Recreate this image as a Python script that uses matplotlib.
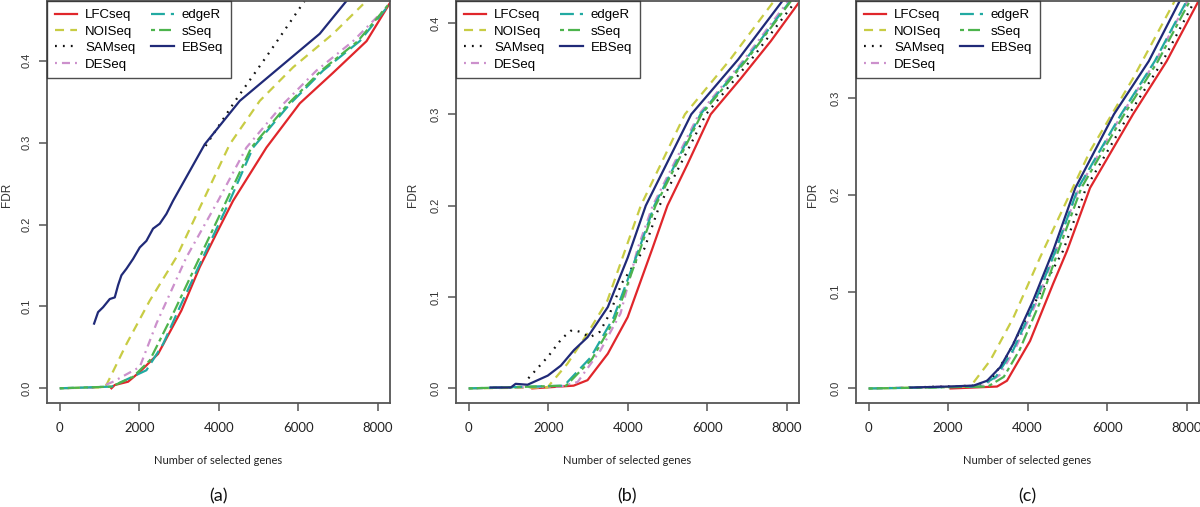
import matplotlib
matplotlib.use("Agg")
import matplotlib.pyplot as plt

# ---- data (FDR vs number of selected genes) ----
methods = ["LFCseq", "NOISeq", "SAMseq", "DESeq", "edgeR", "sSeq", "EBSeq"]

# panel (a)
a_lfc_x = [1300, 1384, 1719, 2013, 2474, 3061, 3522, 3942, 4361, 5200, 6040, 6870, 7720, 8300]
a_lfc_y = [0.0, 0.004, 0.008, 0.020, 0.042, 0.095, 0.148, 0.189, 0.229, 0.294, 0.348, 0.385, 0.424, 0.470]
a_noi_x = [0, 1000, 1174, 1678, 2264, 2935, 3606, 4277, 5032, 5870, 6877, 7632]
a_noi_y = [0.0, 0.001, 0.004, 0.054, 0.107, 0.160, 0.229, 0.298, 0.351, 0.392, 0.433, 0.469]
a_sam_x = [3670, 4400, 5300, 6160]
a_sam_y = [0.296, 0.350, 0.412, 0.473]
a_des_x = [0, 1000, 1342, 2013, 2432, 3187, 3983, 4697, 5619, 6458, 7380, 8219]
a_des_y = [0.0, 0.001, 0.008, 0.026, 0.079, 0.160, 0.229, 0.294, 0.347, 0.388, 0.424, 0.465]
a_edg_x = [0, 1300, 2180, 2600, 3019, 3606, 4277, 4864, 5787, 6625, 7548, 8280]
a_edg_y = [0.0, 0.002, 0.022, 0.054, 0.099, 0.160, 0.229, 0.294, 0.347, 0.388, 0.424, 0.468]
a_sse_x = [0, 1300, 1845, 2264, 2851, 3522, 4194, 4820, 5740, 6580, 7500, 8260]
a_sse_y = [0.0, 0.002, 0.014, 0.034, 0.091, 0.160, 0.229, 0.294, 0.347, 0.388, 0.424, 0.468]
a_ebs_x = [864, 964, 1090, 1258, 1384, 1468, 1552, 1678, 1845, 2013, 2180, 2348, 2516, 2684,
           2851, 3648, 4529, 5535, 6542, 7213]
a_ebs_y = [0.079, 0.093, 0.099, 0.109, 0.111, 0.126, 0.138, 0.146, 0.158, 0.172, 0.180, 0.195,
           0.201, 0.213, 0.229, 0.298, 0.351, 0.392, 0.433, 0.473]

# panel (b)
b_lfc_x = [1600, 2640, 2990, 3500, 4000, 4621, 5000, 5500, 6089, 6843, 7600, 8336]
b_lfc_y = [0.0, 0.003, 0.009, 0.038, 0.078, 0.153, 0.200, 0.245, 0.300, 0.339, 0.380, 0.424]
b_noi_x = [0, 1980, 2483, 2986, 3489, 3950, 4330, 5440, 6580, 7682]
b_noi_y = [0.0, 0.001, 0.027, 0.060, 0.096, 0.153, 0.200, 0.300, 0.360, 0.424]
b_sam_x = [1500, 2000, 2350, 2600, 2800, 3050, 3300, 3550, 3850, 4420, 4800, 5970, 7110, 8230]
b_sam_y = [0.011, 0.035, 0.055, 0.064, 0.062, 0.056, 0.062, 0.082, 0.115, 0.153, 0.200, 0.300,
           0.360, 0.424]
b_des_x = [0, 2300, 2740, 3320, 3820, 4250, 4630, 5790, 6930, 8040]
b_des_y = [0.0, 0.002, 0.007, 0.042, 0.082, 0.153, 0.200, 0.300, 0.360, 0.424]
b_edg_x = [0, 2400, 3070, 3650, 4290, 4670, 5830, 6970, 8090]
b_edg_y = [0.0, 0.003, 0.034, 0.078, 0.153, 0.200, 0.300, 0.360, 0.424]
b_sse_x = [0, 2450, 3100, 3680, 4320, 4700, 5860, 7000, 8110]
b_sse_y = [0.0, 0.003, 0.032, 0.076, 0.153, 0.200, 0.300, 0.360, 0.424]
b_ebs_x = [550, 1060, 1180, 1480, 1990, 2320, 2650, 2990, 3500, 4000, 4455, 5600, 6780, 7892]
b_ebs_y = [0.001, 0.001, 0.005, 0.004, 0.014, 0.025, 0.042, 0.056, 0.089, 0.143, 0.200, 0.300,
           0.360, 0.424]

# panel (c)
c_lfc_x = [2060, 3230, 3480, 4060, 4640, 4990, 5570, 6650, 7500, 8300]
c_lfc_y = [0.0, 0.002, 0.008, 0.049, 0.108, 0.142, 0.207, 0.283, 0.338, 0.400]
c_noi_x = [0, 2560, 3060, 3640, 4310, 5570, 6650, 7700]
c_noi_y = [0.0, 0.002, 0.029, 0.073, 0.135, 0.245, 0.320, 0.400]
c_sam_x = [1000, 2700, 3100, 3500, 4000, 4890, 5470, 6550, 7400, 8200]
c_sam_y = [0.001, 0.003, 0.010, 0.035, 0.075, 0.142, 0.207, 0.283, 0.338, 0.400]
c_des_x = [0, 2900, 3300, 3700, 4200, 4710, 5290, 6370, 7220, 8020]
c_des_y = [0.0, 0.003, 0.014, 0.042, 0.087, 0.142, 0.207, 0.283, 0.338, 0.400]
c_edg_x = [0, 2800, 3200, 3640, 4140, 4700, 5270, 6350, 7200, 8000]
c_edg_y = [0.0, 0.002, 0.012, 0.040, 0.085, 0.142, 0.207, 0.283, 0.338, 0.400]
c_sse_x = [0, 3000, 3400, 3800, 4300, 4770, 5350, 6430, 7280, 8080]
c_sse_y = [0.0, 0.002, 0.012, 0.040, 0.088, 0.142, 0.207, 0.283, 0.338, 0.400]
c_ebs_x = [1050, 2000, 2640, 2980, 3310, 3640, 4140, 4640, 5200, 6170, 7050, 7825]
c_ebs_y = [0.001, 0.002, 0.003, 0.008, 0.022, 0.046, 0.091, 0.142, 0.207, 0.283, 0.338, 0.400]

x_ticks = [0, 2000, 4000, 6000, 8000]

# line styles (R-like lty)
colors = ["#E0262B", "#C8CC44", "#111111", "#CC90CC", "#22AAA2", "#4DB44D", "#202A78"]
dashes = [None, (6.5, 4.5), (1.3, 4.4), (1.4, 3.6, 5.8, 3.6), (10, 4.3),
          (2.9, 2.9, 8.6, 2.9), None]

plt.rcParams["lines.scale_dashes"] = False
plt.rcParams["font.family"] = ["Liberation Sans", "DejaVu Sans"]

fig = plt.figure(figsize=(12, 5.07), dpi=100)

panels = [
    ("(a)", 0.0392, (-0.018, 0.473), [0.0, 0.1, 0.2, 0.3, 0.4], 0.006,
     [(a_lfc_x, a_lfc_y), (a_noi_x, a_noi_y), (a_sam_x, a_sam_y), (a_des_x, a_des_y),
      (a_edg_x, a_edg_y), (a_sse_x, a_sse_y), (a_ebs_x, a_ebs_y)]),
    ("(b)", 0.3800, (-0.016, 0.424), [0.0, 0.1, 0.2, 0.3, 0.4], 0.344,
     [(b_lfc_x, b_lfc_y), (b_noi_x, b_noi_y), (b_sam_x, b_sam_y), (b_des_x, b_des_y),
      (b_edg_x, b_edg_y), (b_sse_x, b_sse_y), (b_ebs_x, b_ebs_y)]),
    ("(c)", 0.7133, (-0.015, 0.400), [0.0, 0.1, 0.2, 0.3], 0.6775,
     [(c_lfc_x, c_lfc_y), (c_noi_x, c_noi_y), (c_sam_x, c_sam_y), (c_des_x, c_des_y),
      (c_edg_x, c_edg_y), (c_sse_x, c_sse_y), (c_ebs_x, c_ebs_y)]),
]

for letter, left, ylim, yticks, ylab_x, series in panels:
    ax = fig.add_axes([left, 0.2051, 0.2858, 0.7929])
    for (xs, ys), name, col, dsh in zip(series, methods, colors, dashes):
        ln, = ax.plot(xs, ys, color=col, lw=1.6, label=name)
        if dsh is not None:
            ln.set_dashes(dsh)
    ax.set_xlim(-320, 8310)
    ax.set_ylim(*ylim)
    ax.set_xticks(x_ticks)
    ax.set_yticks(yticks)
    ax.set_yticklabels([f"{v:.1f}" for v in yticks], rotation=90, va="center",
                       fontsize=8, color="#333333")
    ax.set_xticklabels([str(v) for v in x_ticks], fontsize=9.5, family="Lato",
                       color="#222222")
    ax.tick_params(axis="both", direction="out", length=6, width=1.1, color="#555555")
    ax.tick_params(axis="x", pad=8)
    ax.tick_params(axis="y", pad=5)
    for sp in ax.spines.values():
        sp.set_color("#555555")
        sp.set_linewidth(1.3)

    leg = ax.legend(loc="upper left", ncol=2, frameon=True, fancybox=False,
                    borderaxespad=0, handlelength=1.7, handletextpad=0.6,
                    columnspacing=1.2, labelspacing=0.32, borderpad=0.6,
                    prop={"family": ["Liberation Sans Narrow", "Liberation Sans"], "size": 9.5})
    leg.get_frame().set_edgecolor("#222222")
    leg.get_frame().set_linewidth(1.0)

    cx = left + 0.2858 / 2
    fig.text(cx, 0.0927, "Number of selected genes", ha="center", va="center",
             fontsize=8, family="Lato", color="#222222")
    fig.text(cx, 0.02, letter, ha="center", va="center", fontsize=13, family="Lato",
             color="#111111")
    fig.text(ylab_x, 0.615, "FDR", rotation=90, ha="center", va="center", fontsize=8.5,
             color="#333333")

fig.savefig("out.png", dpi=100)
